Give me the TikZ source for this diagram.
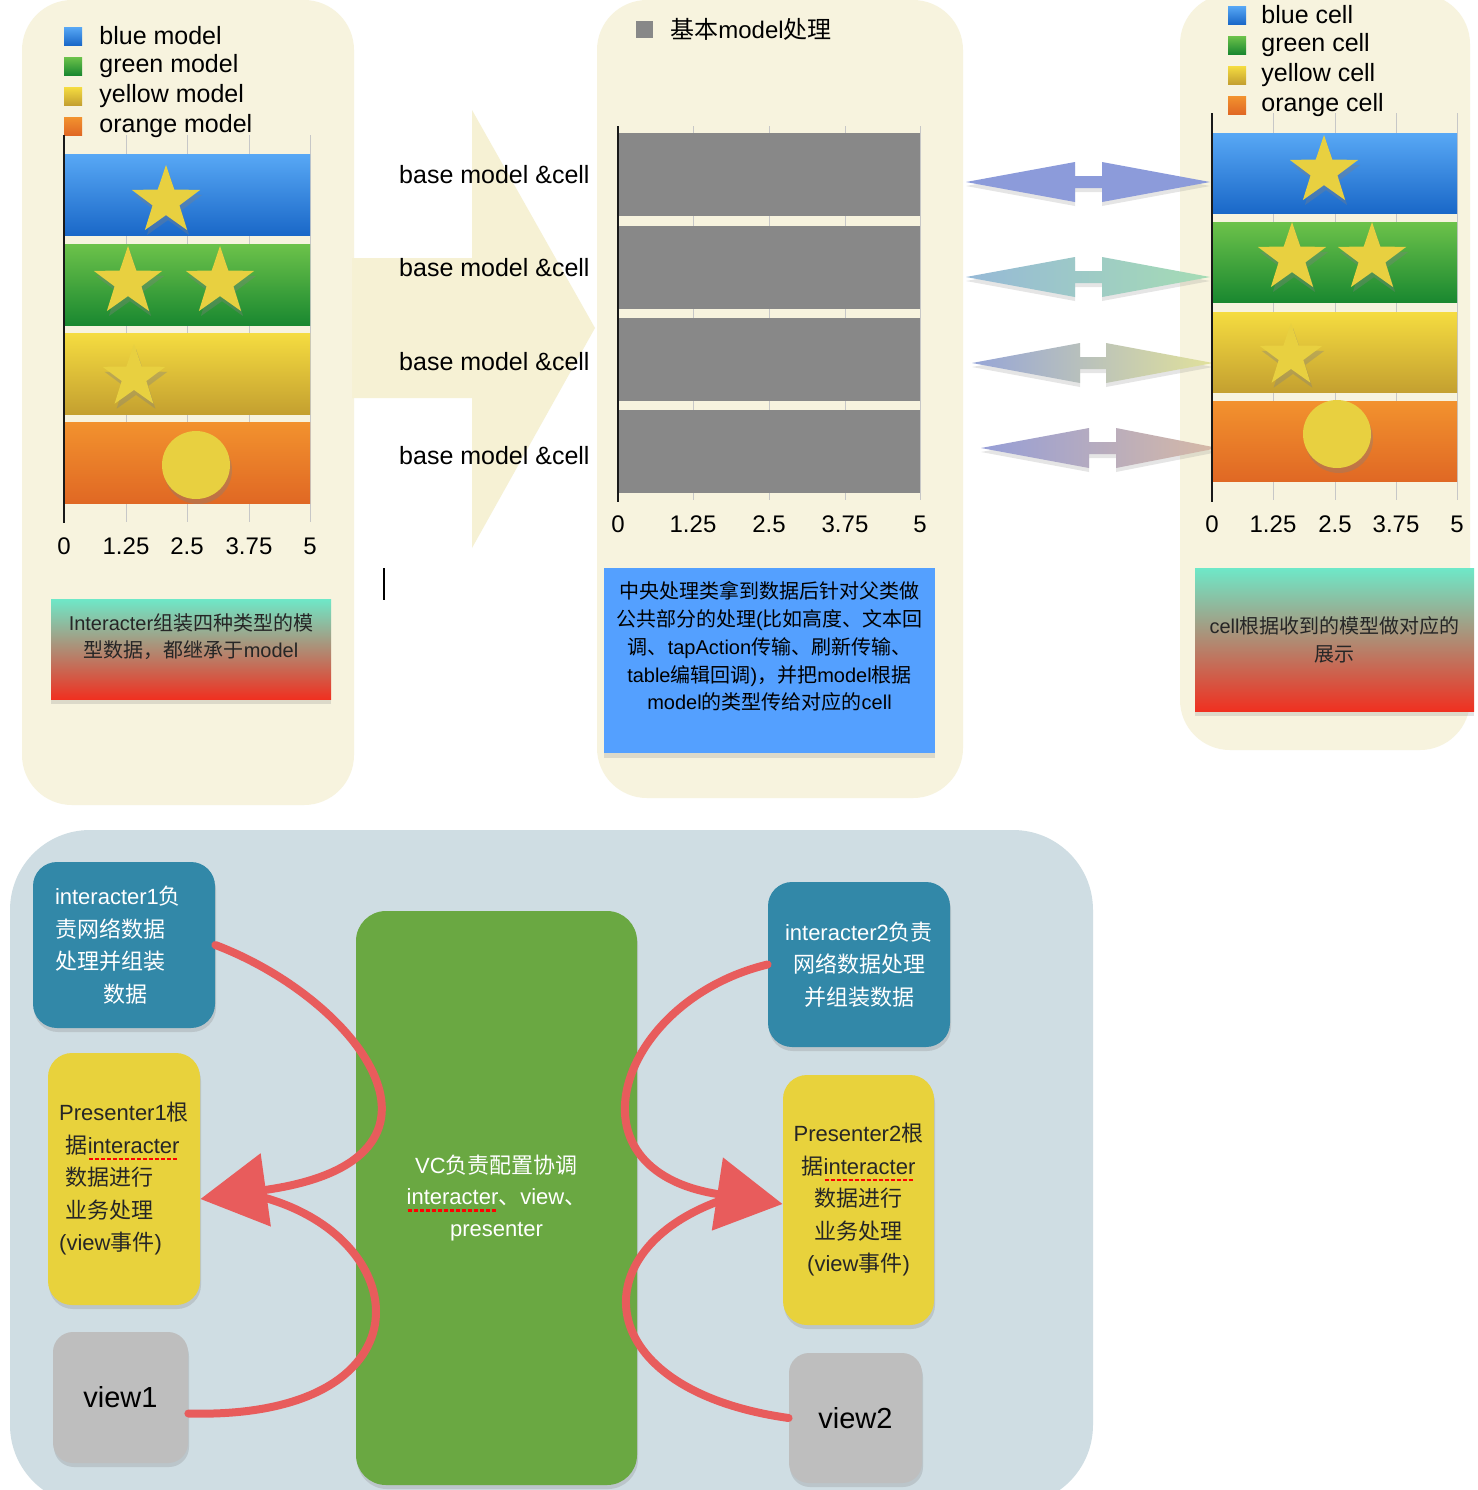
\documentclass[tikz,border=0pt]{standalone}
\usepackage{fontspec}
\setmainfont{Liberation Sans}
\newfontfamily\latinfont{Liberation Sans}
\newfontfamily\cjkfont{Noto Sans CJK SC}
\usetikzlibrary{arrows.meta, positioning, shapes.geometric, shadows}

% Chinese characters switch to the CJK font
\newXeTeXintercharclass\cjkclass
\newcount\cjkcode
\newcommand\cjkrange[2]{%
  \cjkcode=#1
  \loop
    \XeTeXcharclass\cjkcode=\cjkclass
    \advance\cjkcode by 1
  \ifnum\cjkcode<#2 \repeat}
\cjkrange{"3000}{"3040}
\cjkrange{"4E00}{"A000}
\cjkrange{"FF00}{"FFF0}
\XeTeXinterchartoks 0 \cjkclass = {\cjkfont}
\XeTeXinterchartoks 4095 \cjkclass = {\cjkfont}
\XeTeXinterchartoks \cjkclass 0 = {\latinfont}
\XeTeXinterchartoks \cjkclass 4095 = {\latinfont}
\XeTeXinterchartokenstate=1

% red dotted spell mark
\newcommand\spellmark[1]{\setbox0\hbox{#1}\rlap{\raisebox{-3.5pt}{\color{red}\hbox to\wd0{\leaders\hbox to 3pt{\hss\rule{2pt}{1.3pt}\hss}\hfill}}}\box0}

\definecolor{cream}{RGB}{247,243,222}
\definecolor{creamarrow}{RGB}{246,241,212}
\definecolor{blueA}{RGB}{88,168,245}
\definecolor{blueB}{RGB}{26,104,200}
\definecolor{greenA}{RGB}{108,194,74}
\definecolor{greenB}{RGB}{26,136,48}
\definecolor{yellowA}{RGB}{245,220,64}
\definecolor{yellowB}{RGB}{196,160,48}
\definecolor{orangeA}{RGB}{242,146,46}
\definecolor{orangeB}{RGB}{224,104,36}
\definecolor{gold}{RGB}{232,208,64}
\definecolor{bargray}{RGB}{136,136,136}
\definecolor{mint}{RGB}{110,232,200}
\definecolor{scarlet}{RGB}{240,48,32}
\definecolor{skyblue}{RGB}{84,160,255}
\definecolor{slate}{RGB}{207,221,227}
\definecolor{ocean}{RGB}{50,136,168}
\definecolor{mustard}{RGB}{232,210,60}
\definecolor{ash}{RGB}{190,190,190}
\definecolor{moss}{RGB}{106,168,66}
\definecolor{brush}{RGB}{232,92,92}
\definecolor{arrowA}{RGB}{140,155,218}
\definecolor{arrowB}{RGB}{150,185,215}
\definecolor{arrowC}{RGB}{165,220,180}
\definecolor{arrowD}{RGB}{150,165,215}
\definecolor{arrowE}{RGB}{225,225,155}
\definecolor{arrowF}{RGB}{150,158,215}
\definecolor{arrowG}{RGB}{215,185,165}

\begin{document}
\begin{tikzpicture}[x=0.5pt, y=-0.5pt,
    panel/.style={fill=cream, rounded corners=25pt},
    legendsq/.style={minimum size=9pt, inner sep=0pt},
    legendtxt/.style={anchor=west, inner sep=0pt, font=\fontsize{12.5}{15}\selectfont},
    ticklbl/.style={inner sep=0pt, font=\fontsize{12}{14}\selectfont},
    basetxt/.style={anchor=east, inner sep=0pt, font=\fontsize{12.5}{15}\selectfont},
    gridln/.style={draw=black!22, line width=0.4pt},
    axisln/.style={draw=black!90, line width=1.3pt},
    goldstar/.style={star, star points=5, star point ratio=2.55, fill=gold, inner sep=0pt,
      drop shadow={opacity=0.35, shadow xshift=1pt, shadow yshift=-2.5pt}},
    golddot/.style={circle, fill=gold, inner sep=0pt, minimum size=34pt,
      drop shadow={opacity=0.35, shadow xshift=1pt, shadow yshift=-2.5pt}},
    notebox/.style={top color=mint, bottom color=scarlet, inner sep=0pt, align=center,
      font=\fontsize{10}{13.5}\selectfont, text=black!85,
      drop shadow={opacity=0.22, shadow xshift=0pt, shadow yshift=-2.5pt}},
    infobox/.style={fill=skyblue, inner sep=0pt,
      drop shadow={opacity=0.22, shadow xshift=0pt, shadow yshift=-2.5pt}},
    card/.style={rounded corners=12pt, inner sep=0pt, align=center,
      font=\fontsize{11}{16.25}\selectfont,
      drop shadow={opacity=0.25, shadow xshift=0.5pt, shadow yshift=-2pt}},
    brushln/.style={draw=brush, line width=4pt, line cap=round},
    brushtip/.style={-{Triangle[length=33pt, width=36pt]}},
  ]
\fill[white] (0,0) rectangle (1478,1490);
\useasboundingbox (0,0) rectangle (1478,1490);

% Panels
\fill[panel] (22,0) rectangle (354,805);
\fill[panel] (597,0) rectangle (963,798);
\fill[panel] (1180,-6) rectangle (1470,750);
\fill[creamarrow] (352,258) -- (472,258) -- (472,110) -- (595,328) -- (472,548) -- (472,398) -- (352,398) -- cycle;

% Left chart: models
\foreach \y/\col/\lbl in {36/blue/blue model, 66/green/green model, 96/yellow/yellow model, 126/orange/orange model} {
  \node[legendsq, top color=\col A, bottom color=\col B] (lsq\col) at (73,\y) {};
  \node[legendtxt] (ltx\col) at (99,\y) {\lbl};
}
\foreach \x in {126,187,249,310}
  \draw[gridln] (\x,135) -- (\x,522);
\foreach \y/\col in {154/blue, 244/green, 333/yellow, 422/orange}
  \shade[top color=\col A, bottom color=\col B] (64,\y) rectangle (310,\y+81);
\draw[axisln] (64,135) -- (64,523);
\foreach \x/\v in {64/0, 126/1.25, 187/2.5, 249/3.75, 310/5}
  \node[ticklbl] (lt\x) at (\x,546) {\v};
\node[goldstar, minimum size=36pt] (lstar1) at (166,201) {};
\node[goldstar, minimum size=36pt] (lstar2) at (128,282) {};
\node[goldstar, minimum size=36pt] (lstar3) at (220,282) {};
\node[goldstar, minimum size=33pt] (lstar4) at (134,377) {};
\node[golddot] (ldot) at (196,465) {};
\node[notebox, minimum width=140pt, minimum height=50pt] (lnote) at (191,649) {};
\node[inner sep=0pt, align=center, font=\fontsize{10}{13.5}\selectfont, text=black!85] (lnotetxt) at ([yshift=6pt]lnote.center) {Interacter组装四种类型的模\\型数据，都继承于model};
\draw[line width=1pt] (384,568) -- (384,600);

% Arrow labels
\foreach \y [count=\i] in {175,268,362,456}
  \node[basetxt] (base\i) at (590,\y) {base model \&cell};

% Middle chart: base model
\node[legendsq, fill=bargray, minimum size=8.5pt] (msq) at (644.5,29.5) {};
\node[legendtxt, font=\fontsize{12}{14}\selectfont] (mtx) at (670,29) {基本model处理};
\foreach \x in {693,769,845,920}
  \draw[gridln] (\x,126) -- (\x,500);
\foreach \y in {133,226,318,410}
  \fill[bargray] (618,\y) rectangle (920,\y+83);
\draw[axisln] (618,126) -- (618,502);
\foreach \x/\v in {618/0, 693/1.25, 769/2.5, 845/3.75, 920/5}
  \node[ticklbl] (mt\x) at (\x,524) {\v};
\node[infobox, minimum width=165.5pt, minimum height=92.5pt] (central) at (769.5,660.5) {};
\node[inner sep=0pt, align=center, font=\fontsize{10}{13.9}\selectfont] (centraltxt) at ([yshift=7pt]central.center) {中央处理类拿到数据后针对父类做\\公共部分的处理(比如高度、文本回\\调、tapAction传输、刷新传输、\\table编辑回调)，并把model根据\\model的类型传给对应的cell};

% Double arrows
\foreach \y/\l/\lb/\rb/\r/\ca/\cb in {182/966/1075/1102/1210/arrowA/arrowA, 277/966/1075/1102/1210/arrowB/arrowC, 363/972/1080/1106/1213/arrowD/arrowE, 448/981/1089/1116/1218/arrowF/arrowG}
  \shade[left color=\ca, right color=\cb, drop shadow={opacity=0.2, shadow xshift=0pt, shadow yshift=-2pt}]
    (\l,\y) -- (\lb,\y-20) -- (\lb,\y-6) -- (\rb,\y-6) -- (\rb,\y-20) -- (\r,\y)
    -- (\rb,\y+20) -- (\rb,\y+6) -- (\lb,\y+6) -- (\lb,\y+20) -- cycle;

% Right chart: cells
\foreach \y/\col/\lbl in {15/blue/blue cell, 45/green/green cell, 75/yellow/yellow cell, 105/orange/orange cell} {
  \node[legendsq, top color=\col A, bottom color=\col B] (rsq\col) at (1237,\y) {};
  \node[legendtxt] (rtx\col) at (1261,\y) {\lbl};
}
\foreach \x in {1273,1335,1396,1457}
  \draw[gridln] (\x,113) -- (\x,500);
\foreach \y/\col in {133/blue, 222/green, 312/yellow, 401/orange}
  \shade[top color=\col A, bottom color=\col B] (1212,\y) rectangle (1457,\y+80);
\draw[axisln] (1212,113) -- (1212,502);
\foreach \x/\v in {1212/0, 1273/1.25, 1335/2.5, 1396/3.75, 1457/5}
  \node[ticklbl] (rt\x) at (\x,524) {\v};
\node[goldstar, minimum size=36pt] (rstar1) at (1324,171) {};
\node[goldstar, minimum size=36pt] (rstar2) at (1292,258) {};
\node[goldstar, minimum size=36pt] (rstar3) at (1372,258) {};
\node[goldstar, minimum size=33pt] (rstar4) at (1291,356) {};
\node[golddot] (rdot) at (1337,434) {};
\node[notebox, minimum width=139.5pt, minimum height=71.5pt, font=\fontsize{10}{14}\selectfont] (rnote) at (1334.5,639.5) {cell根据收到的模型做对应的\\展示};

% Bottom: VIPER parts
\fill[slate, rounded corners=40pt] (10,830) rectangle (1093,1505);
\node[card, fill=ocean, text=white, align=left, text width=69pt, minimum width=91pt, minimum height=83pt] (int1) at (124,945) {interacter1负\\责网络数据\\处理并组装\\\hspace*{2.2em}数据};
\node[card, fill=mustard, text=black!85, align=left, minimum width=76pt, minimum height=126pt] (pres1) at (124,1179) {Presenter1根\\\hspace*{0.3em}据\spellmark{interacter}\\\hspace*{0.3em}数据进行\\\hspace*{0.3em}业务处理\\(view事件)};
\node[card, fill=ash, rounded corners=10pt, font=\fontsize{14.5}{17}\selectfont, minimum width=67.5pt, minimum height=65.5pt] (view1) at (120.5,1397.5) {view1};
\node[card, fill=moss, text=white, rounded corners=15pt, font=\fontsize{11}{15.75}\selectfont, minimum width=140.5pt, minimum height=287pt] (vc) at (496.5,1198) {VC负责配置协调\\\spellmark{interacter}、view、\\presenter};
\node[card, fill=ocean, text=white, minimum width=91pt, minimum height=82.5pt] (int2) at (859,964.5) {interacter2负责\\网络数据处理\\并组装数据};
\node[card, fill=mustard, text=black!85, minimum width=75.5pt, minimum height=125pt] (pres2) at (858.5,1200) {Presenter2根\\据\spellmark{interacter}\\数据进行\\业务处理\\(view事件)};
\node[card, fill=ash, rounded corners=10pt, font=\fontsize{14.5}{17}\selectfont, minimum width=66.5pt, minimum height=65pt] (view2) at (855.5,1418) {view2};

% Brush arrows
\coordinate (lhead) at (262,1197);
\coordinate (rhead) at (722,1200);
\draw[brushln, brushtip] (int1.east) .. controls (360,1000) and (480,1160) .. ([yshift=-10pt]pres1.east);
\draw[brushln] ([yshift=-8pt]view1.east) .. controls (430,1420) and (420,1240) .. (lhead);
\draw[brushln, brushtip] (int2.west) .. controls (620,1000) and (560,1170) .. ([yshift=-2pt]pres2.west);
\draw[brushln] (view2.west) .. controls (590,1390) and (580,1250) .. (rhead);
\end{tikzpicture}
\end{document}
